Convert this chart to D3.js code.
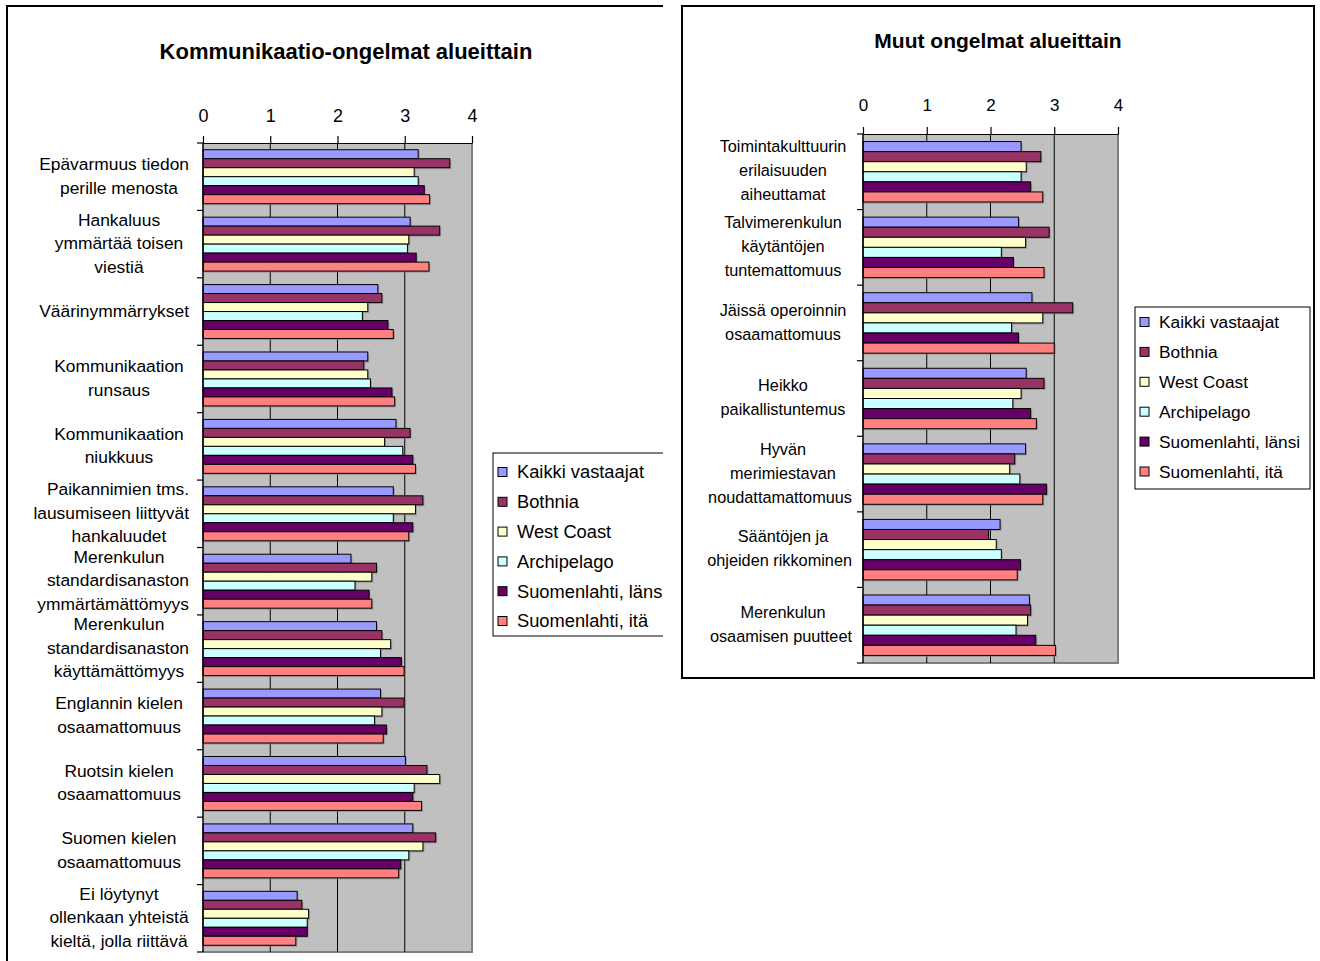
<!DOCTYPE html>
<html>
<head>
<meta charset="utf-8">
<script src="https://cdn.jsdelivr.net/npm/d3@7"></script>
<style>
  html, body { margin: 0; padding: 0; background: #fff; }
  svg { display: block; font-family: "Liberation Sans", Arial, sans-serif; }
</style>
</head>
<body>
<svg id="chart" width="1320" height="961"></svg>
<script>
// ---------- DATA ----------
const seriesNames = ["Kaikki vastaajat", "Bothnia", "West Coast", "Archipelago", "Suomenlahti, länsi", "Suomenlahti, itä"];
const seriesColors = ["#9999FF", "#993366", "#FFFFCC", "#CCFFFF", "#660066", "#FF8080"];
const tickValues = [0, 1, 2, 3, 4];

const leftTitle = "Kommunikaatio-ongelmat alueittain";
const leftCategories = [
  ["Epävarmuus tiedon", "perille menosta"],
  ["Hankaluus", "ymmärtää toisen", "viestiä"],
  ["Väärinymmärrykset"],
  ["Kommunikaation", "runsaus"],
  ["Kommunikaation", "niukkuus"],
  ["Paikannimien tms.", "lausumiseen liittyvät", "hankaluudet"],
  ["Merenkulun", "standardisanaston", "ymmärtämättömyys"],
  ["Merenkulun", "standardisanaston", "käyttämättömyys"],
  ["Englannin kielen", "osaamattomuus"],
  ["Ruotsin kielen", "osaamattomuus"],
  ["Suomen kielen", "osaamattomuus"],
  ["Ei löytynyt", "ollenkaan yhteistä", "kieltä, jolla riittävä"]
];
const leftKaikki      = [3.20, 3.08, 2.60, 2.45, 2.87, 2.83, 2.20, 2.58, 2.64, 3.01, 3.12, 1.40];
const leftBothnia     = [3.67, 3.52, 2.66, 2.39, 3.08, 3.27, 2.58, 2.66, 2.99, 3.33, 3.46, 1.47];
const leftWestCoast   = [3.14, 3.06, 2.45, 2.45, 2.70, 3.16, 2.51, 2.79, 2.66, 3.52, 3.27, 1.57];
const leftArchipelago = [3.20, 3.04, 2.37, 2.49, 2.97, 2.83, 2.26, 2.64, 2.55, 3.14, 3.06, 1.55];
const leftLansi       = [3.29, 3.17, 2.75, 2.81, 3.12, 3.12, 2.47, 2.95, 2.73, 3.12, 2.94, 1.55];
const leftIta         = [3.37, 3.36, 2.83, 2.85, 3.16, 3.06, 2.51, 2.99, 2.68, 3.25, 2.91, 1.38];

const rightTitle = "Muut ongelmat alueittain";
const rightCategories = [
  ["Toimintakulttuurin", "erilaisuuden", "aiheuttamat"],
  ["Talvimerenkulun", "käytäntöjen", "tuntemattomuus"],
  ["Jäissä operoinnin", "osaamattomuus"],
  ["Heikko", "paikallistuntemus"],
  ["Hyvän", "merimiestavan", "noudattamattomuus"],
  ["Sääntöjen ja", "ohjeiden rikkominen"],
  ["Merenkulun", "osaamisen puutteet"]
];
const rightKaikki      = [2.48, 2.44, 2.65, 2.56, 2.55, 2.15, 2.61];
const rightBothnia     = [2.79, 2.92, 3.29, 2.84, 2.38, 1.97, 2.63];
const rightWestCoast   = [2.56, 2.55, 2.82, 2.48, 2.30, 2.09, 2.58];
const rightArchipelago = [2.48, 2.17, 2.33, 2.35, 2.46, 2.17, 2.40];
const rightLansi       = [2.63, 2.36, 2.44, 2.63, 2.88, 2.47, 2.71];
const rightIta         = [2.82, 2.84, 3.00, 2.72, 2.82, 2.42, 3.02];

// ---------- DRAWING ----------
const svg = d3.select("#chart");

function drawChart(cfg) {
  const g = svg.append("g");
  if (cfg.clip) {
    const id = "clip" + cfg.id;
    svg.append("clipPath").attr("id", id).append("rect")
      .attr("x", cfg.clip[0]).attr("y", cfg.clip[1]).attr("width", cfg.clip[2]).attr("height", cfg.clip[3]);
    g.attr("clip-path", `url(#${id})`);
  }
  // frame
  g.append("path").attr("d", cfg.framePath).attr("fill", "none")
    .attr("stroke", "#000").attr("stroke-width", 2);

  // title
  g.append("text").attr("x", cfg.titleX).attr("y", cfg.titleY)
    .attr("text-anchor", "middle").attr("font-weight", "bold")
    .attr("font-size", cfg.titleSize).text(cfg.title);

  const p = cfg.plot;
  const x = d3.scaleLinear().domain([0, 4]).range([p.x0, p.x1]);
  const keys = cfg.categories.map(c => c.join(" "));
  const y = d3.scaleBand().domain(keys).range([p.y0, p.y1]).paddingInner(0.2).paddingOuter(0.1);
  const ys = d3.scaleBand().domain(seriesNames).range([0, y.bandwidth()]);

  // plot background
  g.append("rect").attr("x", p.x0).attr("y", p.y0).attr("width", p.x1 - p.x0).attr("height", p.y1 - p.y0)
    .attr("fill", "#C0C0C0");
  // right & bottom border
  g.append("path").attr("d", `M${p.x1},${p.y0}V${p.y1}H${p.x0}`).attr("fill", "none")
    .attr("stroke", "#808080").attr("stroke-width", 2);

  // grid lines
  g.append("g").selectAll("line").data(tickValues.filter(v => v > 0 && v < 4)).join("line")
    .attr("x1", d => x(d)).attr("x2", d => x(d)).attr("y1", p.y0).attr("y2", p.y1)
    .attr("stroke", "#000").attr("stroke-width", 1);

  // bars
  const rows = [];
  cfg.series.forEach((vals, si) => vals.forEach((v, ci) => rows.push({ s: seriesNames[si], si, c: keys[ci], v })));
  const bars = g.append("g");
  bars.selectAll("rect.sh").data(rows).join("rect").attr("class", "sh")
    .attr("x", x(0) + 1.5).attr("y", d => y(d.c) + ys(d.s) + 1.5)
    .attr("width", d => x(d.v) - x(0)).attr("height", ys.bandwidth())
    .attr("fill", "#808080").attr("opacity", 0.6);
  bars.selectAll("rect.bar").data(rows).join("rect").attr("class", "bar")
    .attr("x", x(0)).attr("y", d => y(d.c) + ys(d.s))
    .attr("width", d => x(d.v) - x(0)).attr("height", ys.bandwidth())
    .attr("fill", d => seriesColors[d.si]).attr("stroke", "#000").attr("stroke-width", 1);

  // top axis
  const ax = g.append("g").attr("transform", `translate(0,${p.y0})`)
    .call(d3.axisTop(x).tickValues(tickValues).tickFormat(d3.format("d"))
      .tickSize(7).tickPadding(cfg.tickPad).tickSizeOuter(0));
  ax.select(".domain").attr("stroke", "#000").attr("stroke-width", 1.2);
  ax.selectAll(".tick line").attr("stroke", "#000").attr("stroke-width", 1.2);
  ax.selectAll("text").attr("font-size", cfg.tickSize).attr("fill", "#000")
    .attr("font-family", '"Liberation Sans", Arial, sans-serif');

  // left axis line and category boundary ticks
  g.append("line").attr("x1", p.x0).attr("x2", p.x0).attr("y1", p.y0).attr("y2", p.y1)
    .attr("stroke", "#000").attr("stroke-width", 1.5);
  const bounds = d3.range(keys.length + 1).map(i => p.y0 + i * y.step());
  g.append("g").selectAll("line").data(bounds).join("line")
    .attr("x1", p.x0 - 6).attr("x2", p.x0).attr("y1", d => d).attr("y2", d => d)
    .attr("stroke", "#000").attr("stroke-width", 1.2);

  // category labels
  const lab = g.append("g").attr("font-size", cfg.labelSize);
  cfg.categories.forEach((lines, i) => {
    const cy = y(keys[i]) + y.bandwidth() / 2 + cfg.labelShift;
    const n = lines.length;
    lines.forEach((ln, j) => {
      const t = lab.append("text").attr("text-anchor", "middle").attr("dy", "0.35em")
        .attr("y", cy + (j - (n - 1) / 2) * cfg.lineH).text(ln);
      const w = t.node().getComputedTextLength();
      let cx = cfg.labelCx;
      if (cx + w / 2 > cfg.labelMaxRight) cx = cfg.labelMaxRight - w / 2;
      t.attr("x", cx);
    });
  });

  // legend
  const L = cfg.legend;
  g.append("rect").attr("x", L.x).attr("y", L.y).attr("width", L.w).attr("height", L.h)
    .attr("fill", "#fff").attr("stroke", "#000").attr("stroke-width", 1);
  const li = g.append("g").selectAll("g").data(seriesNames).join("g")
    .attr("transform", (d, i) => `translate(${L.x + 5},${L.y0 + i * L.step})`);
  li.append("rect").attr("x", 0).attr("y", -4.5).attr("width", 9).attr("height", 9)
    .attr("fill", (d, i) => seriesColors[i]).attr("stroke", "#000").attr("stroke-width", 1);
  li.append("text").attr("x", L.tx).attr("dy", "0.35em").attr("font-size", L.fs).text(d => d);
}

drawChart({
  id: "L",
  clip: [0, 0, 663, 961],
  framePath: "M7,970V6H663",
  title: leftTitle, titleX: 346, titleY: 59, titleSize: 22,
  plot: { x0: 203, x1: 472, y0: 143, y1: 952 },
  categories: leftCategories,
  series: [leftKaikki, leftBothnia, leftWestCoast, leftArchipelago, leftLansi, leftIta],
  tickPad: 14, tickSize: 18,
  labelSize: 17.4, lineH: 23.5, labelCx: 119, labelMaxRight: 189, labelShift: -1,
  legend: { x: 493, y: 453, w: 180, h: 183, y0: 472, step: 29.8, tx: 19, fs: 18.3 }
});

drawChart({
  id: "R",
  clip: null,
  framePath: "M682,678V6H1314V678Z",
  title: rightTitle, titleX: 998, titleY: 48, titleSize: 21,
  plot: { x0: 863, x1: 1118, y0: 134, y1: 663 },
  categories: rightCategories,
  series: [rightKaikki, rightBothnia, rightWestCoast, rightArchipelago, rightLansi, rightIta],
  tickPad: 16, tickSize: 17,
  labelSize: 16.3, lineH: 24, labelCx: 783, labelMaxRight: 852, labelShift: -1,
  legend: { x: 1135, y: 307, w: 175, h: 182, y0: 322, step: 29.9, tx: 19, fs: 17.3 }
});
</script>
</body>
</html>
